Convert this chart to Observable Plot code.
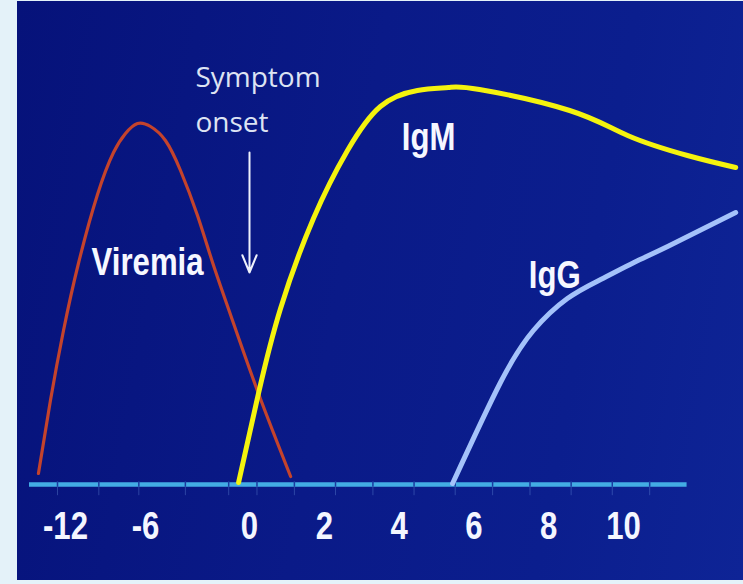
<!DOCTYPE html>
<html>
<head>
<meta charset="utf-8">
<script src="https://cdn.jsdelivr.net/npm/d3@7"></script>
<script src="https://cdn.jsdelivr.net/npm/@observablehq/plot@0.6"></script>
<style>
  html, body { margin: 0; padding: 0; background: #e4f2f9; }
  #wrap { position: relative; width: 743px; height: 584px; overflow: hidden; }
  #panel {
    position: absolute; left: 17px; top: 1px; right: 0; bottom: 4px;
    background: linear-gradient(100deg, #06127a 0%, #0a1a88 45%, #0b1e8e 75%, #0e2496 100%);
  }
  #chart { position: absolute; left: 0; top: 0; }
</style>
</head>
<body>
<div id="wrap">
  <div id="panel"></div>
  <div id="chart"></div>
</div>
<script>
// Days relative to symptom onset, and relative level (0–100) of each marker
const viremiaDay   = [-14.03, -13.13, -12.15, -11.03, -9.6, -8.4, -7.5, -6.6, -5.71, -4.85, -3.98, -3.0, -2.13, -1.10, 0.24, 1.10];
const viremiaLevel = [2.75, 21, 38.5, 55.25, 72.5, 83, 87.75, 90.25, 89.5, 86, 78.5, 67.25, 55.5, 42.5, 22.75, 2];

const igmDay   = [-0.63, 0.24, 0.83, 1.71, 2.62, 3.50, 4.49, 5.32, 6.15, 8.56, 10.11, 11.71, 13.0];
const igmLevel = [0.5, 22.75, 44, 66.5, 83.5, 94.5, 98.5, 99.25, 98.75, 93.5, 87.25, 82.25, 79.25];

const iggDay   = [5.43, 6.71, 7.59, 8.50, 9.39, 10.28, 11.18, 13.0];
const iggLevel = [0.25, 25.5, 38.5, 46.5, 51.25, 55.5, 59.5, 68];

// Axis: labelled days and the small division marks along the time line
const tickLabels = [-12, -6, 0, 2, 4, 6, 8, 10];
const divisionDays = [-12.6, -9.5, -6.5, -3.7, -1.2, 0.2, 1.2, 2.3, 3.3, 4.4, 5.5, 6.5, 7.5, 8.6, 9.7, 10.7];
const timelineSpan = [-14.7, 11.7];

// Curve labels
const labelText  = ["Viremia", "IgM", "IgG"];
const labelDay   = [-5.88, 4.79, 8.16];
const labelLevel = [55.4, 86.75, 52.25];

// Symptom onset annotation
const onsetText = "Symptom\nonset";
const onsetTextDay = -3.12;
const onsetTextLevel = 97.4;
const onsetDay = 0;
const onsetArrow = [83, 53];

const toRows = (days, levels) => days.map((d, i) => ({day: d, level: levels[i]}));
const viremia = toRows(viremiaDay, viremiaLevel);
const igm = toRows(igmDay, igmLevel);
const igg = toRows(iggDay, iggLevel);
const labels = labelText.map((t, i) => ({text: t, day: labelDay[i], level: labelLevel[i]}));

const boldFont = "'Liberation Sans', Arial, sans-serif";

const chart = Plot.plot({
  width: 743,
  height: 584,
  marginTop: 0,
  marginRight: 0,
  marginLeft: 0,
  marginBottom: 100,
  style: {background: "transparent", color: "white", overflow: "visible"},
  x: {type: "linear", domain: [-12, -6, 0, 10], range: [65, 145, 249, 623], label: null},
  y: {domain: [0, 100], range: [484, 84], axis: null, label: null},
  marks: [
    // time line with its division marks
    Plot.ruleX(divisionDays, {x: d => d, y1: 0, y2: -2.8, stroke: "#6f9be0", strokeOpacity: 0.35, strokeWidth: 1}),
    Plot.ruleY([0], {x1: timelineSpan[0], x2: timelineSpan[1], stroke: "#43ace4", strokeWidth: 4.5}),
    Plot.ruleX(divisionDays, {x: d => d, y1: -0.7, y2: 0.7, stroke: "#1a3aa0", strokeWidth: 1.5}),
    Plot.axisX(tickLabels, {
      label: null, tickSize: 0, tickPadding: 28, tickFormat: d => String(d),
      fontSize: 38, fontWeight: "bold", fontFamily: boldFont, fill: "#f4f6ff"
    }),
    // marker curves
    Plot.line(viremia, {x: "day", y: "level", curve: "natural", stroke: "#c4432c", strokeWidth: 3.2}),
    Plot.line(igg, {x: "day", y: "level", curve: "natural", stroke: "#a4c2fa", strokeWidth: 5}),
    Plot.line(igm, {x: "day", y: "level", curve: "natural", stroke: "#f4f30e", strokeWidth: 5}),
    // labels
    Plot.text(labels, {
      x: "day", y: "level", text: "text",
      fontSize: 38, fontWeight: "bold", fontFamily: boldFont, fill: "#f6f7ff"
    }),
    Plot.text([onsetText], {
      x: onsetTextDay, y: onsetTextLevel, text: d => d, textAnchor: "start",
      lineHeight: 1.6, fontSize: 28, fontFamily: "'Open Sans', sans-serif", fill: "#dde3f3"
    }),
    Plot.arrow([onsetDay], {
      x1: d => d, x2: d => d, y1: onsetArrow[0], y2: onsetArrow[1],
      stroke: "#eef1fb", strokeWidth: 2, headLength: 14, headAngle: 45
    })
  ]
});

// The bold lettering is set in a condensed width: squeeze each glyph run about its own anchor.
const squeeze = 0.82;
chart.querySelectorAll('g[font-weight="bold"] text').forEach(t => {
  const tr = t.getAttribute("transform");
  if (tr) {
    t.setAttribute("transform", `${tr} scale(${squeeze},1)`);
  } else {
    const x = +t.getAttribute("x") || 0, y = +t.getAttribute("y") || 0;
    t.setAttribute("transform", `translate(${x},${y}) scale(${squeeze},1)`);
    t.setAttribute("x", 0);
    t.setAttribute("y", 0);
  }
});

document.getElementById("chart").appendChild(chart);
</script>
</body>
</html>
